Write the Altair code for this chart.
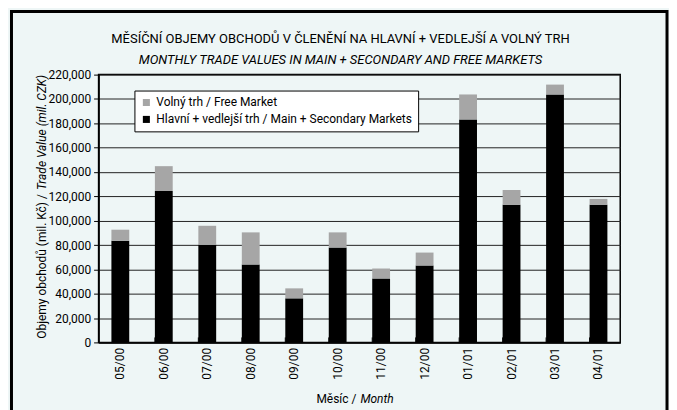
import altair as alt
import pandas as pd

months = ["05/00", "06/00", "07/00", "08/00", "09/00", "10/00",
          "11/00", "12/00", "01/01", "02/01", "03/01", "04/01"]
main_secondary = [83600, 124400, 80300, 64000, 36200, 77900,
                  52500, 63200, 183200, 113000, 203700, 113000]
free_market = [9000, 20400, 15500, 26400, 8200, 12500,
               8200, 10600, 20500, 12200, 8100, 4900]
series_names = ["Volný trh / Free Market",
                "Hlavní + vedlejší trh / Main + Secondary Markets"]
series_colors = ["#a6a6a6", "#000000"]
y_ticks = [0, 20000, 40000, 60000, 80000, 100000, 120000,
           140000, 160000, 180000, 200000, 220000]

title_line1 = "MĚSÍČNÍ OBJEMY OBCHODŮ V ČLENĚNÍ NA HLAVNÍ + VEDLEJŠÍ A VOLNÝ TRH"
title_line2 = "MONTHLY TRADE VALUES IN MAIN + SECONDARY AND FREE MARKETS"
y_title_a = "Objemy obchodů (mil. Kč) /"
y_title_b = "Trade Value (mil. CZK)"
x_title_a = "Měsíc /"
x_title_b = "Month"

FONT = "Roboto"
BG = "#eef6f6"

rows = []
for m, a, b in zip(months, main_secondary, free_market):
    rows.append({"month": m, "series": series_names[1], "value": a, "ord": 0})
    rows.append({"month": m, "series": series_names[0], "value": b, "ord": 1})
df = pd.DataFrame(rows)

W, H = 524, 269

x_enc = alt.X("month:N", sort=months,
              scale=alt.Scale(paddingInner=0.59, paddingOuter=0.295),
              axis=alt.Axis(title=None, labelAngle=270, ticks=False,
                            labelFontSize=12, labelPadding=5,
                            labelBaseline="middle", labelAlign="right"))

bars = alt.Chart(df).mark_bar().encode(
    x=x_enc,
    y=alt.Y("value:Q", stack="zero",
            scale=alt.Scale(domain=[0, 220000], nice=False),
            axis=alt.Axis(title=None, values=y_ticks, format=",d",
                          labelFontSize=12, tickSize=5, labelPadding=3,
                          grid=True)),
    color=alt.Color("series:N",
                    scale=alt.Scale(domain=series_names, range=series_colors),
                    legend=alt.Legend(title=None, orient="none",
                                      legendX=36, legendY=16,
                                      direction="vertical",
                                      fillColor="white", strokeColor="black",
                                      padding=6, symbolType="square",
                                      symbolSize=50, symbolStrokeWidth=0,
                                      labelFontSize=12, labelLimit=400,
                                      rowPadding=5, labelFont=FONT,
                                      labelColor="black")),
    order=alt.Order("ord:Q"),
)

ticks_df = pd.DataFrame({"month": months[1:]})
xticks = alt.Chart(ticks_df).mark_rule(color="black", strokeWidth=1).encode(
    x=alt.X("month:N", sort=months, bandPosition=0),
    y=alt.value(H),
    y2=alt.value(H - 5),
)

one = pd.DataFrame({"k": [0]})


def text_layer(txt, x, y, align="center", italic=False, angle=None, size=12,
               baseline="alphabetic"):
    kw = dict(text=txt, align=align, baseline=baseline, fontSize=size,
              font=FONT, color="black")
    if italic:
        kw["fontStyle"] = "italic"
    if angle is not None:
        kw["angle"] = angle
    return alt.Chart(one).mark_text(**kw).encode(x=alt.value(x), y=alt.value(y))


title1 = text_layer(title_line1, 243, -32, size=13)
title2 = text_layer(title_line2, 243, -11, size=13, italic=True)
ytitle_a = text_layer(y_title_a, -57, 120, align="right", angle=270, baseline="middle")
ytitle_b = text_layer(y_title_b, -57, 116, align="left", angle=270, baseline="middle",
                      italic=True)
xtitle_a = text_layer(x_title_a, 259, 330, align="right")
xtitle_b = text_layer(x_title_b, 263, 330, align="left", italic=True)

frame = alt.Chart(one).mark_rect(
    fillOpacity=0, stroke="black", strokeWidth=3).encode(
    x=alt.value(-87.5), x2=alt.value(571),
    y=alt.value(-63.5), y2=alt.value(339))

chart = alt.layer(xticks, bars, title1, title2, ytitle_a, ytitle_b,
                  xtitle_a, xtitle_b, frame).properties(
    width=W, height=H,
    autosize=alt.AutoSizeParams(type="none"),
    padding={"left": 91, "top": 66, "right": 49, "bottom": 72},
    background=BG,
).configure_view(
    fill=BG, stroke="black", strokeWidth=1.5
).configure_axis(
    labelFont=FONT, labelColor="black", domainColor="black",
    tickColor="black", gridColor="#222222", gridWidth=1, domainWidth=1.5
)

chart.save("out.html", embed_options={"renderer": "svg", "actions": False})
